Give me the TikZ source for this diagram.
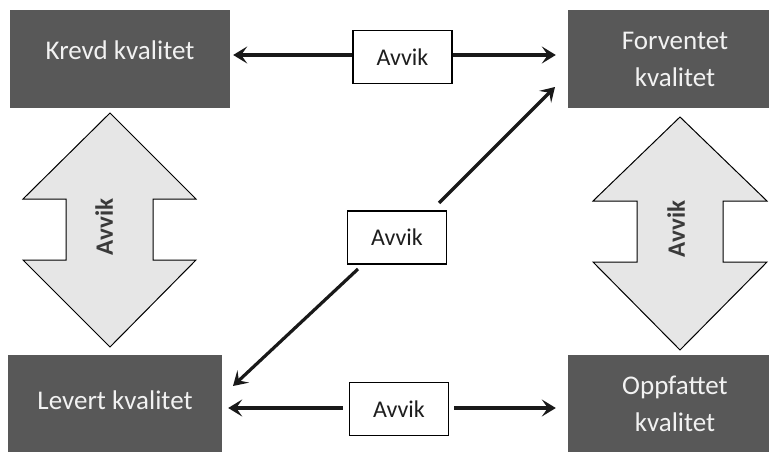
\documentclass[tikz,border=0pt]{standalone}
\usepackage{fontspec}
\setmainfont{Carlito}
\usetikzlibrary{arrows.meta}
\definecolor{boxgray}{HTML}{585858}
\definecolor{arrowfill}{HTML}{E6E6E6}
\definecolor{boxtext}{HTML}{F2F2F2}
\definecolor{avviktext}{HTML}{1E1E1E}
\definecolor{sidetext}{HTML}{3A3A3A}
\tikzset{
  qbox/.style={fill=boxgray, draw=none, text=boxtext, minimum height=98pt, inner sep=0pt, align=center,
    font=\fontsize{27}{37}\selectfont},
  avbox/.style={draw=black, line width=1.4pt, fill=white, text=avviktext, minimum width=99pt, minimum height=53pt,
    inner sep=0pt, font=\fontsize{24}{28}\selectfont},
  conn/.style={line width=3.2pt, draw=black!90, -{Stealth[length=14pt,width=17pt,inset=6pt]}},
  dblarrow/.style={fill=arrowfill, draw=black, line width=1pt, line join=miter},
  sidelabel/.style={rotate=90, text=sidetext, font=\bfseries\fontsize{25}{28}\selectfont, inner sep=0pt}
}
\begin{document}
\begin{tikzpicture}[x=1pt,y=-1pt]
\useasboundingbox (0,0) rectangle (769,452);
\clip (0,0) rectangle (769,452);
\fill[white] (0,0) rectangle (769,452);

% quality boxes
\node[qbox, minimum width=220pt] (krevd) at (120,59) {\raisebox{9pt}[\height][\depth]{Krevd kvalitet}};
\node[qbox, minimum width=214pt] (forv) at (675,59) {Forventet\\kvalitet};
\node[qbox, minimum width=214pt] (levert) at (115,404) {\raisebox{4pt}[\height][\depth]{Levert kvalitet}};
\node[qbox, minimum width=214pt] (oppf) at (675,404) {Oppfattet\\kvalitet};

% deviation boxes
\node[avbox] (avtop) at (402.5,57) {Avvik};
\node[avbox] (avmid) at (397,237.5) {Avvik};
\node[avbox] (avbot) at (399,409) {Avvik};

% horizontal connectors
\draw[conn] (avtop.west |- 0,55) -- (krevd.east |- 0,55) [shorten >=3pt];
\draw[conn] (avtop.east |- 0,55) -- (forv.west |- 0,55) [shorten >=12pt];
\draw[conn] (avbot.west |- 0,408) -- (levert.east |- 0,408) [shorten >=6pt, shorten <=6pt];
\draw[conn] (avbot.east |- 0,408) -- (oppf.west |- 0,408) [shorten >=12pt, shorten <=5pt];

% diagonal connectors
\coordinate (dtop) at (555,87);
\coordinate (dbot) at (233,386);
\coordinate (dtopstart) at (439,203);
\coordinate (dbotstart) at (358,269);
\draw[conn] (dtopstart) -- (dtop);
\draw[conn] (dbotstart) -- (dbot);

% double arrows
\draw[dblarrow] (110,113) -- (196,199) -- (153,199) -- (153,260) -- (196,260) -- (110,347)
  -- (23,260) -- (66,260) -- (66,199) -- (23,199) -- cycle;
\node[sidelabel] (avleft) at (104,227) {Avvik};

\draw[dblarrow] (680,117) -- (767,201) -- (723,201) -- (723,262) -- (767,262) -- (680,350)
  -- (593,262) -- (637,262) -- (637,201) -- (593,201) -- cycle;
\node[sidelabel] (avright) at (676,229) {Avvik};
\end{tikzpicture}
\end{document}
